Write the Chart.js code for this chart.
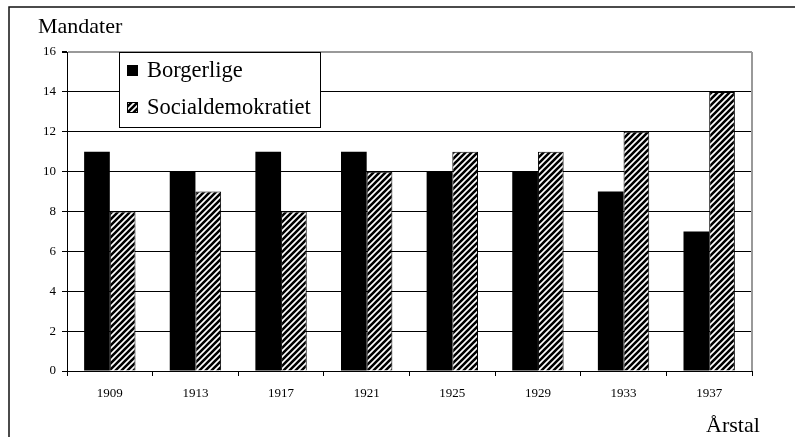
<!DOCTYPE html>
<html>
<head>
<meta charset="utf-8">
<script src="https://cdn.jsdelivr.net/npm/chart.js@4"></script>
<style>
  html, body { margin: 0; padding: 0; background: #fff; }
  #wrap { width: 795px; height: 437px; position: relative; }
</style>
</head>
<body>
<div id="wrap"><canvas id="graph-0"></canvas></div>
<script>
// data
const years = ['1909', '1913', '1917', '1921', '1925', '1929', '1933', '1937'];
const borgerlige = [11, 10, 11, 11, 10, 10, 9, 7];
const socialdemokratiet = [8, 9, 8, 10, 11, 11, 12, 14];
const yTicks = [0, 2, 4, 6, 8, 10, 12, 14, 16];

const serif = '"Liberation Serif", "DejaVu Serif", serif';

/*
* =============================================
* HELPERS :: start
* ============================================= */
const makeHatch = () => {
  const size = 6,
    c = document.createElement('canvas');
  c.width = size;
  c.height = size;
  const ctx = c.getContext('2d');
  ctx.fillStyle = '#fff';
  ctx.fillRect(0, 0, size, size);
  ctx.strokeStyle = '#000';
  ctx.lineWidth = 2.6;
  ctx.beginPath();
  // "/" stripes, tiled (x + y = 0, size, 2 * size)
  for (let k = 0; k <= 2; k++) {
    ctx.moveTo(-size, k * size + size);
    ctx.lineTo(k * size + size, -size);
  }
  ctx.stroke();
  return ctx.createPattern(c, 'repeat');
};

const hatch = makeHatch();

// frame, axis captions, inner legend
const decorPlugin = {
  id: 'decor',
  afterDraw(chart) {
    const ctx = chart.ctx,
      area = chart.chartArea;

    ctx.save();
    // outer frame (left + top only visible)
    ctx.strokeStyle = '#111';
    ctx.lineWidth = 1.5;
    ctx.beginPath();
    ctx.moveTo(9, 440);
    ctx.lineTo(9, 7);
    ctx.lineTo(800, 7);
    ctx.stroke();

    // right plot border
    ctx.strokeStyle = '#999';
    ctx.lineWidth = 2;
    ctx.beginPath();
    ctx.moveTo(area.right, area.top);
    ctx.lineTo(area.right, area.bottom);
    ctx.stroke();

    // captions
    ctx.fillStyle = '#000';
    ctx.font = '22px ' + serif;
    ctx.textBaseline = 'alphabetic';
    ctx.textAlign = 'left';
    ctx.fillText('Mandater', 38, 33);
    ctx.fillText('Årstal', 706, 432);

    // legend box
    const lx = 119, ly = 52, lw = 201, lh = 75;
    ctx.fillStyle = '#fff';
    ctx.fillRect(lx, ly, lw, lh);
    ctx.strokeStyle = '#000';
    ctx.lineWidth = 1;
    ctx.strokeRect(lx + 0.5, ly + 0.5, lw, lh);

    const items = [
      { text: 'Borgerlige', fill: '#000', y: 71 },
      { text: 'Socialdemokratiet', fill: hatch, y: 108 }
    ];
    ctx.font = '22.5px ' + serif;
    for (let it of items) {
      ctx.fillStyle = it.fill;
      ctx.fillRect(127, it.y - 6, 11, 11);
      ctx.strokeStyle = '#000';
      ctx.strokeRect(127.5, it.y - 5.5, 10, 10);
      ctx.fillStyle = '#000';
      ctx.textBaseline = 'middle';
      ctx.fillText(it.text, 147, it.y);
    }
    ctx.restore();
  }
};
/*
* HELPERS :: end
* ============================================= */

new Chart(document.getElementById('graph-0'), {
  type: 'bar',
  data: {
    labels: years,
    datasets: [{
      label: 'Borgerlige',
      data: borgerlige,
      backgroundColor: '#000',
      borderWidth: 0
    }, {
      label: 'Socialdemokratiet',
      data: socialdemokratiet,
      backgroundColor: hatch,
      borderColor: '#000',
      borderWidth: 1
    }]
  },
  options: {
    responsive: true,
    maintainAspectRatio: false,
    animation: false,
    devicePixelRatio: 1,
    layout: { padding: { left: 0, top: 52, right: 43, bottom: 0 } },
    datasets: {
      bar: { categoryPercentage: 0.6, barPercentage: 1 }
    },
    plugins: {
      legend: { display: false },
      tooltip: { enabled: false }
    },
    scales: {
      x: {
        afterFit: (scale) => { scale.height = 66; },
        grid: {
          drawOnChartArea: false,
          offset: true,
          tickLength: 5,
          tickColor: '#000'
        },
        border: { color: '#000', width: 1 },
        ticks: {
          color: '#000',
          padding: 10,
          font: { family: serif, size: 13 }
        }
      },
      y: {
        min: 0,
        max: 16,
        afterFit: (scale) => { scale.width = 67; },
        afterBuildTicks: (scale) => {
          scale.ticks = yTicks.map((v) => ({ value: v }));
        },
        grid: {
          color: (c) => (c.tick && c.tick.value === 16 ? '#999' : '#000'),
          lineWidth: (c) => (c.tick && c.tick.value === 16 ? 2 : 1),
          tickLength: 5,
          tickColor: '#000'
        },
        border: { color: '#000', width: 1 },
        ticks: {
          color: '#000',
          padding: 6,
          font: { family: serif, size: 13 }
        }
      }
    }
  },
  plugins: [decorPlugin]
});
</script>
</body>
</html>
